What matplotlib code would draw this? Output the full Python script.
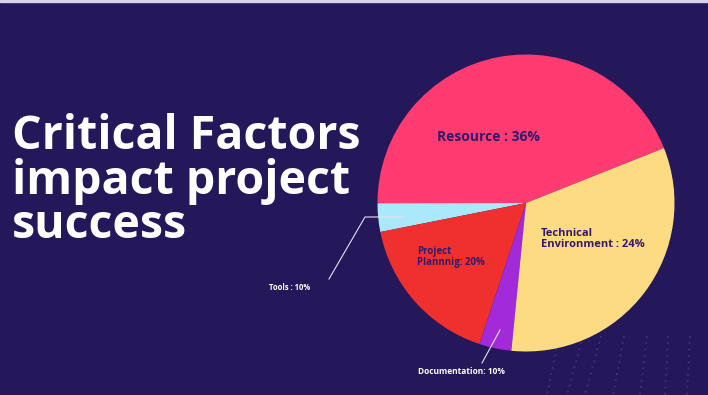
import numpy as np
import matplotlib.pyplot as plt

# slice sizes as drawn (degrees share), labels as printed on the slide
factors = ["Resource", "Tools", "Project Plannnig", "Documentation", "Technical Environment"]
shares = [44.0, 3.1, 16.8, 3.5, 32.6]
colors = ["#FF3B72", "#A9E9FB", "#EF302E", "#A22AD8", "#FDDB83"]
label_texts = ["Resource : 36%", "Tools : 10%", "Project\nPlannnig: 20%",
               "Documentation: 10%", "Technical\nEnvironment : 24%"]
title_lines = ["Critical Factors", "impact project", "success"]

bg = "#24175A"
ink = "#33196A"
W, H = 708, 395

fig = plt.figure(figsize=(W / 100, H / 100), dpi=100)
fig.patch.set_facecolor(bg)
ax = fig.add_axes([0, 0, 1, 1])
ax.set_facecolor(bg)

def py(y):
    # pixel row (from top) -> data y
    return H - y

# faint dotted perspective lines, bottom right
for xb, xt in [(547, 559), (567, 583), (585, 601), (613, 624), (640, 647), (665, 668), (687, 690)]:
    ax.plot([xt, xb], [py(336), py(395)], color="#3E3282", lw=1.3,
            linestyle=(0, (1, 2.5)), zorder=0)

ax.pie(shares, colors=colors, startangle=21.7, counterclock=True,
       center=(526, py(203)), radius=148.5,
       wedgeprops=dict(linewidth=0), frame=True)

ax.set_xlim(0, W)
ax.set_ylim(0, H)
ax.set_aspect("equal")
ax.axis("off")

# thin light strip at the very top
ax.axhspan(py(2), H, color="#D9D3F0", zorder=5)

fam = ["Open Sans", "DejaVu Sans"]

# slide title
for line, yb in zip(title_lines, [149, 194, 238]):
    ax.text(12, py(yb), line, color="white", fontsize=33.5, fontweight="bold",
            family=fam, ha="left", va="baseline")

# slice labels
ax.text(488, py(137), label_texts[0], color=ink, fontsize=10, fontweight="bold",
        family=fam, ha="center", va="center")
ax.text(541, py(239), label_texts[4], color=ink, fontsize=8, fontweight="bold",
        family=fam, ha="left", va="center", linespacing=1.0)
ax.text(417, py(257), label_texts[2], color=ink, fontsize=7, fontweight="bold",
        family=fam, ha="left", va="center", linespacing=1.0)
ax.text(290, py(288), label_texts[1], color="white", fontsize=5.5, fontweight="bold",
        family=fam, ha="center", va="center")
ax.text(461, py(371), label_texts[3], color="white", fontsize=6, fontweight="bold",
        family=fam, ha="center", va="center")

# leader lines
ax.plot([329, 365, 404], [py(279), py(217), py(217)], color="#E6E2F5", lw=0.8)
ax.plot([482, 500], [py(363), py(330)], color="#E6E2F5", lw=0.8)

fig.savefig("out.png", dpi=100, facecolor=bg)
